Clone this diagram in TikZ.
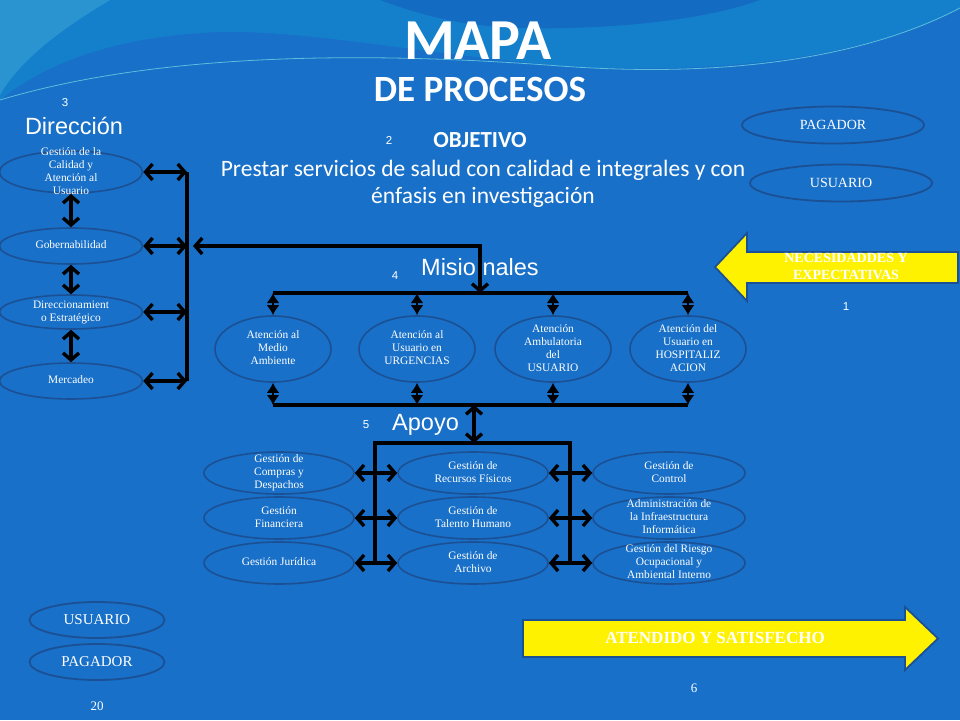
\documentclass[tikz,border=0pt]{standalone}
\usepackage{fontspec}
\usepackage{graphicx}
\setmainfont{Liberation Serif}
\newfontfamily\calibri{Carlito}
\newfontfamily\arial{Liberation Sans}
\usetikzlibrary{
    arrows.meta,
    positioning,
    shapes.geometric
}
\definecolor{fondo}{RGB}{24,112,200}
\definecolor{fondoclaro}{RGB}{20,128,204}
\definecolor{fondooscuro}{RGB}{20,108,194}
\definecolor{ola}{RGB}{110,210,225}
\definecolor{borde}{RGB}{28,80,148}
\newcommand{\pila}[1]{\smash{\raisebox{-.25em}{\begin{tabular}{@{}c@{}}#1\end{tabular}}}}

\begin{document}
\begin{tikzpicture}[x=1pt, y=-1pt,
    proc/.style={ellipse, draw=borde, line width=1.6pt, inner sep=0pt, text=white, font=\fontsize{11.4}{13}\selectfont},
    cli/.style={ellipse, draw=borde, line width=1.8pt, minimum width=182pt, minimum height=37pt, inner sep=0pt, text=white, font=\fontsize{14}{16}\selectfont},
    num/.style={text=white, font=\arial\fontsize{11.5}{13}\selectfont, inner sep=0pt},
    head/.style={text=white, font=\arial\fontsize{23.5}{26}\selectfont, inner sep=0pt},
    bus/.style={line width=3.6pt, line join=miter},
    dbl/.style={{Straight Barb[length=7pt,width=16pt]}-{Straight Barb[length=7pt,width=16pt]}, line width=3.4pt, line join=miter},
    dia/.style={{Latex[length=10pt,width=13pt]}-{Latex[length=10pt,width=13pt]}, line width=2pt},
    yarrow/.style={fill=yellow, draw=borde, line width=1.8pt},
    ytext/.style={text=white, font=\bfseries\fontsize{14}{17}\selectfont, align=center, inner sep=0pt}
]
    \fill[fondo] (0,0) rectangle (960,720);
    \useasboundingbox (0,0) rectangle (960,720);
    \fill[fondoclaro] (0,0) -- (960,0) -- (960,8) .. controls (880,50) and (760,72) .. (600,68) .. controls (450,60) and (320,30) .. (220,32) .. controls (120,36) and (50,60) .. (0,100) -- cycle;
    \fill[fondooscuro] (380,0) -- (760,0) .. controls (700,22) and (600,30) .. (520,28) .. controls (460,26) and (420,15) .. (380,0) -- cycle;
    \fill[ola, opacity=.25] (0,0) -- (110,0) .. controls (60,30) and (20,60) .. (0,95) -- cycle;
    \draw[ola, line width=.8pt, opacity=.8] (0,100) .. controls (150,55) and (350,50) .. (560,66) .. controls (750,80) and (880,50) .. (960,8);

    \node[text=white, font=\calibri\bfseries\fontsize{58}{58}\selectfont, inner sep=0pt] (mapa) at (478,41) {MAPA};
    \node[text=white, font=\calibri\bfseries\fontsize{37}{40}\selectfont, inner sep=0pt] (deproc) at (480,89) {DE PROCESOS};
    \node[num] (n2) at (389,140) {2};
    \node[text=white, font=\calibri\bfseries\fontsize{23}{25}\selectfont, inner sep=0pt] (obj) at (480,140) {OBJETIVO};
    \node[text=white, font=\calibri\fontsize{23.5}{27}\selectfont, align=center, inner sep=0pt] (prestar) at (483,184) {Prestar servicios de salud con calidad e integrales y con\\énfasis en investigación};

    \node[num] (n3) at (65,103) {3};
    \node[head] (dir) at (74,126) {Dirección};
    \node[proc, minimum width=143pt, minimum height=42pt] (d1) at (71,172) {\pila{Gestión de la\\Calidad y\\Atención al\\Usuario}};
    \node[proc, minimum width=143pt, minimum height=36pt] (d2) at (71,246) {\pila{Gobernabilidad}};
    \node[proc, minimum width=143pt, minimum height=34pt] (d3) at (71,312) {\pila{Direccionamient\\o Estratégico}};
    \node[proc, minimum width=143pt, minimum height=36pt] (d4) at (71,381) {\pila{Mercadeo}};

    \coordinate (dt) at (187,172);
    \coordinate (db) at (187,381);
    \coordinate (ml) at (193,246);
    \coordinate (mc) at (480,246);
    \coordinate (mt) at (480,293);
    \coordinate (mb) at (474,405);
    \coordinate (at) at (474,443);
    \coordinate (al) at (375,443);
    \coordinate (ar) at (570,443);

    \draw[bus] (dt) -- (db);
    \draw[dbl] (d1) -- (d2);
    \draw[dbl] (d2) -- (d3);
    \draw[dbl] (d3) -- (d4);
    \draw[dbl] (d1) -- (d1 -| dt);
    \draw[dbl] (d2) -- (d2 -| dt);
    \draw[dbl] (d3) -- (d3 -| dt);
    \draw[dbl] (d4) -- (d4 -| dt);
    \draw[dbl] (ml) -- (mc) -- (mt);

    \node[num] (n4) at (395,276) {4};
    \node[head, anchor=west] (mis) at (421,267) {Misio nales};
    \node[proc, minimum width=116pt, minimum height=66pt] (m1) at (273,349) {\pila{Atención al\\Medio\\Ambiente}};
    \node[proc, minimum width=116pt, minimum height=66pt] (m2) at (417,349) {\pila{Atención al\\Usuario en\\URGENCIAS}};
    \node[proc, minimum width=116pt, minimum height=66pt] (m3) at (553,349) {\pila{Atención\\Ambulatoria\\del\\USUARIO}};
    \node[proc, minimum width=116pt, minimum height=66pt] (m4) at (688,349) {\pila{Atención del\\Usuario en\\HOSPITALIZ\\ACION}};
    \draw[bus] (m1 |- mt) -- (m4 |- mt);
    \draw[bus] (m1 |- mb) -- (m4 |- mb);
    \foreach \m in {m1,m2,m3,m4} {
        \draw[dia] (\m |- mt) -- (\m);
        \draw[dia] (\m) -- (\m |- mb);
    }
    \draw[dbl] (mb) -- (at);

    \node[num] (n5) at (366,425) {5};
    \node[head, anchor=west] (apoyo) at (392,425) {Apoyo};
    \node[proc, minimum width=150pt, minimum height=42pt] (a1) at (279,473) {\pila{Gestión de\\Compras y\\Despachos}};
    \node[proc, minimum width=150pt, minimum height=42pt] (a2) at (279,518) {\pila{Gestión\\Financiera}};
    \node[proc, minimum width=150pt, minimum height=42pt] (a3) at (279,563) {\pila{Gestión Jurídica}};
    \node[proc, minimum width=150pt, minimum height=42pt] (b1) at (473,473) {\pila{Gestión de\\Recursos Físicos}};
    \node[proc, minimum width=150pt, minimum height=42pt] (b2) at (473,518) {\pila{Gestión de\\Talento Humano}};
    \node[proc, minimum width=150pt, minimum height=42pt] (b3) at (473,563) {\pila{Gestión de\\Archivo}};
    \node[proc, minimum width=152pt, minimum height=42pt] (c1) at (669,473) {\pila{Gestión de\\Control}};
    \node[proc, minimum width=152pt, minimum height=42pt] (c2) at (669,518) {\pila{Administración de\\la Infraestructura\\Informática}};
    \node[proc, minimum width=152pt, minimum height=42pt] (c3) at (669,563) {\pila{Gestión del Riesgo\\Ocupacional y\\Ambiental Interno}};
    \draw[bus] (al |- a3) -- (al) -- (ar) -- (ar |- a3);
    \draw[dbl] (a1) -- (b1);
    \draw[dbl] (a2) -- (b2);
    \draw[dbl] (a3) -- (b3);
    \draw[dbl] (b1) -- (c1);
    \draw[dbl] (b2) -- (c2);
    \draw[dbl] (b3) -- (c3);

    \node[cli] (pag1) at (833,125) {PAGADOR};
    \node[cli] (usu1) at (841,183) {USUARIO};
    \draw[yarrow] (958,252) -- (747,252) -- (747,233) -- (715,267) -- (747,301) -- (747,283) -- (958,283) -- cycle;
    \node[ytext] (nec) at (846,266) {NECESIDADDES Y\\EXPECTATIVAS};
    \node[num] (n1) at (846,307) {1};

    \node[cli, minimum width=135pt, minimum height=36pt, font=\fontsize{15}{17}\selectfont] (usu2) at (97,620) {USUARIO};
    \node[cli, minimum width=135pt, minimum height=36pt, font=\fontsize{15}{17}\selectfont] (pag2) at (97,662) {PAGADOR};
    \node[text=white, font=\fontsize{13}{15}\selectfont, inner sep=0pt] (n20) at (97,706) {20};
    \draw[yarrow] (523,620) -- (905,620) -- (905,607) -- (938,638.5) -- (905,670) -- (905,657) -- (523,657) -- cycle;
    \node[ytext, font=\bfseries\fontsize{17}{19}\selectfont] (ate) at (715,638) {ATENDIDO Y SATISFECHO};
    \node[text=white, font=\fontsize{13}{15}\selectfont, inner sep=0pt] (n6) at (694,688) {6};
\end{tikzpicture}
\end{document}
